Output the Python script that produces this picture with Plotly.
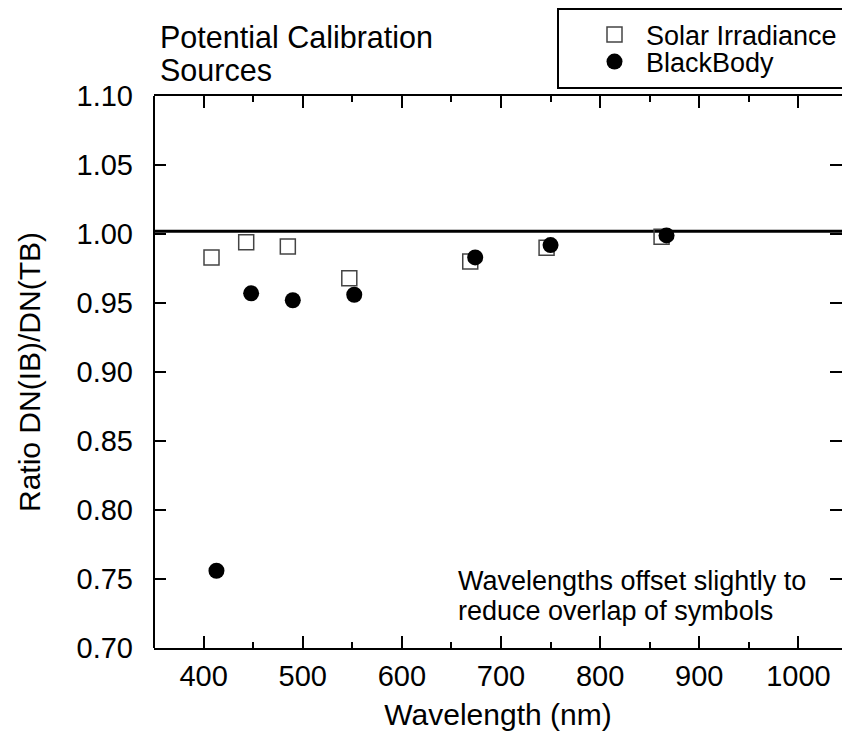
import plotly.graph_objects as go

# ---- data ----
solar_wl = [408, 443, 485, 547, 669, 746, 862]
solar_ratio = [0.983, 0.994, 0.991, 0.968, 0.980, 0.990, 0.998]
bb_wl = [413, 448, 490, 552, 674, 750, 867]
bb_ratio = [0.756, 0.957, 0.952, 0.956, 0.983, 0.992, 0.999]
ref_ratio = 1.002
y_tick_vals = [0.70, 0.75, 0.80, 0.85, 0.90, 0.95, 1.00, 1.05, 1.10]
x_tick_vals = [400, 500, 600, 700, 800, 900, 1000]

FONT = "Liberation Sans, Arial, Helvetica, sans-serif"
W, H = 842, 737
ML, MR, MT, MB = 154, 0, 96, 89
PW, PH = W - ML - MR, H - MT - MB


def px(p):
    return (p - ML) / PW


def py(p):
    return (H - MB - p) / PH


fig = go.Figure()
fig.add_trace(go.Scatter(
    x=solar_wl, y=solar_ratio, mode="markers", name="Solar Irradiance",
    legend="legend",
    marker=dict(symbol="square-open", size=15, color="#444444", line=dict(width=1.5)),
))
fig.add_trace(go.Scatter(
    x=bb_wl, y=bb_ratio, mode="markers", name="BlackBody",
    legend="legend2",
    marker=dict(symbol="circle", size=16, color="black", line=dict(width=0)),
))

fig.add_shape(type="line", xref="paper", x0=0, x1=1, yref="y", y0=ref_ratio, y1=ref_ratio,
              line=dict(color="black", width=3), layer="below")
# left axis line (right axis lies just outside the visible page)
fig.add_shape(type="line", xref="paper", x0=0, x1=0, yref="paper", y0=0, y1=1,
              line=dict(color="black", width=2))
# legend frame
fig.add_shape(type="rect", xref="paper", yref="paper",
              x0=px(558), x1=px(846), y0=py(88), y1=py(9),
              line=dict(color="black", width=2), fillcolor="white", layer="below")

ann_font = dict(family=FONT, size=27, color="black")
title_font = dict(family=FONT, size=30.5, color="black")
for txt, yy in [("Potential Calibration", 37), ("Sources", 70)]:
    fig.add_annotation(text=txt, xref="paper", yref="paper", x=px(158), y=py(yy),
                       xanchor="left", yanchor="middle", showarrow=False, font=title_font)
for txt, yy in [("Wavelengths offset slightly to", 581), ("reduce overlap of symbols", 611)]:
    fig.add_annotation(text=txt, xref="paper", yref="paper", x=px(456), y=py(yy),
                       xanchor="left", yanchor="middle", showarrow=False, font=ann_font)

leg_font = dict(family=FONT, size=27, color="black")
fig.update_layout(
    width=W, height=H,
    margin=dict(l=ML, r=MR, t=MT, b=MB, pad=0),
    paper_bgcolor="white", plot_bgcolor="white",
    font=dict(family=FONT, color="black"),
    showlegend=True,
    legend=dict(x=px(583), y=py(35), xanchor="left", yanchor="middle",
                bgcolor="rgba(0,0,0,0)", borderwidth=0, itemwidth=53, font=leg_font),
    legend2=dict(x=px(583), y=py(62), xanchor="left", yanchor="middle",
                 bgcolor="rgba(0,0,0,0)", borderwidth=0, itemwidth=53, font=leg_font),
)

fig.update_xaxes(
    range=[350, 1044], tickvals=x_tick_vals, ticktext=[str(v) for v in x_tick_vals],
    ticks="inside", ticklen=12, tickwidth=2, tickcolor="black",
    minor=dict(dtick=50, tick0=0, ticks="inside", ticklen=6, tickwidth=2, tickcolor="black"),
    showline=True, linewidth=2, linecolor="black", mirror="ticks",
    showgrid=False, zeroline=False,
    tickfont=dict(family=FONT, size=29, color="black"), ticklabelstandoff=1,
    title=dict(text="Wavelength (nm)", font=dict(family=FONT, size=30, color="black"), standoff=13),
)
fig.update_yaxes(
    range=[0.70, 1.10], tickvals=y_tick_vals, tickformat=".2f",
    ticks="inside", ticklen=12, tickwidth=2, tickcolor="black",
    showline=False, mirror="ticks",
    showgrid=False, zeroline=False,
    tickfont=dict(family=FONT, size=29, color="black"), ticklabelstandoff=20,
    title=dict(text="Ratio DN(IB)/DN(TB)", font=dict(family=FONT, size=30, color="black"), standoff=27),
)

fig.write_html("out.html")
